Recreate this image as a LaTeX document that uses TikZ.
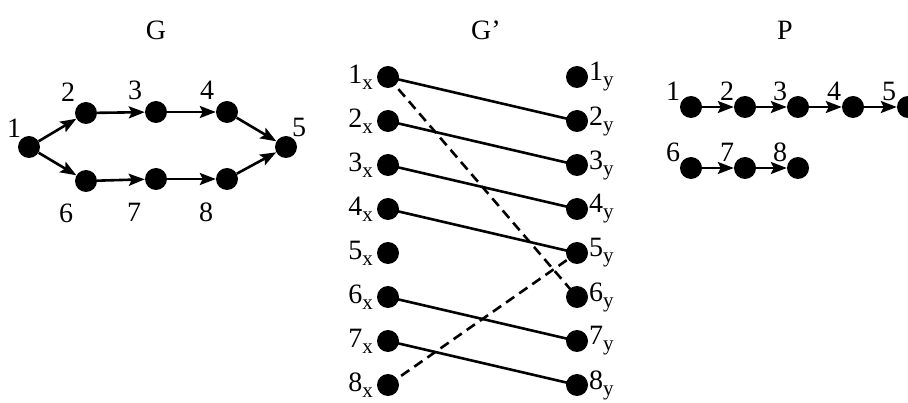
\documentclass[tikz,border=0pt]{standalone}
\usepackage{fontspec}
\setmainfont{Liberation Serif}
\usetikzlibrary{arrows.meta}

\tikzset{
  vtx/.style={circle, fill=black, inner sep=0pt, minimum size=22pt},
  lbl/.style={font=\fontsize{28}{32}\selectfont, inner sep=0pt},
  ttl/.style={font=\fontsize{28}{32}\selectfont, inner sep=0pt},
  arc/.style={line width=2.6pt, -{Stealth[length=16pt,width=12pt,inset=3pt]}},
  pair/.style={line width=2.6pt},
  dpair/.style={line width=2.6pt, dash pattern=on 10pt off 6pt}
}

\begin{document}
\begin{tikzpicture}[x=1pt, y=-1pt]

\useasboundingbox (0,0) rectangle (908,403);
\clip (0,0) rectangle (908,403);

\def\sx{\raisebox{-6pt}{\fontsize{21}{21}\selectfont x}}
\def\sy{\raisebox{-6pt}{\fontsize{21}{21}\selectfont y}}

% --- Graph G ---
\node[ttl] (titleG) at (156,30) {G};
\node[vtx] (g1) at (29,147) {};
\node[vtx] (g2) at (86,113) {};
\node[vtx] (g3) at (156,112) {};
\node[vtx] (g4) at (227,112) {};
\node[vtx] (g5) at (286,147) {};
\node[vtx] (g6) at (86,181) {};
\node[vtx] (g7) at (156,179) {};
\node[vtx] (g8) at (227,179) {};
\node[lbl] (gl1) at (14,128) {1};
\node[lbl] (gl2) at (68,92) {2};
\node[lbl] (gl3) at (135,90) {3};
\node[lbl] (gl4) at (207,90) {4};
\node[lbl] (gl5) at (299,127) {5};
\node[lbl] (gl6) at (66,213) {6};
\node[lbl] (gl7) at (134,212) {7};
\node[lbl] (gl8) at (206,212) {8};
\draw[arc] (g1) -- (g2);
\draw[arc] (g2) -- (g3);
\draw[arc] (g3) -- (g4);
\draw[arc] (g4) -- (g5);
\draw[arc] (g1) -- (g6);
\draw[arc] (g6) -- (g7);
\draw[arc] (g7) -- (g8);
\draw[arc] (g8) -- (g5);

% --- Bipartite graph G' ---
\node[ttl] (titleGp) at (486,30) {G’};
\node[vtx] (x1) at (388,77) {};
\node[vtx] (x2) at (388,121) {};
\node[vtx] (x3) at (388,165) {};
\node[vtx] (x4) at (388,209) {};
\node[vtx] (x5) at (388,253) {};
\node[vtx] (x6) at (388,297) {};
\node[vtx] (x7) at (388,341) {};
\node[vtx] (x8) at (388,385) {};
\node[vtx] (y1) at (577,77) {};
\node[vtx] (y2) at (577,121) {};
\node[vtx] (y3) at (577,165) {};
\node[vtx] (y4) at (577,209) {};
\node[vtx] (y5) at (577,253) {};
\node[vtx] (y6) at (577,297) {};
\node[vtx] (y7) at (577,341) {};
\node[vtx] (y8) at (577,385) {};
\node[lbl, anchor=east] (xl1) at (373,77) {1\sx};
\node[lbl, anchor=east] (xl2) at (373,121) {2\sx};
\node[lbl, anchor=east] (xl3) at (373,165) {3\sx};
\node[lbl, anchor=east] (xl4) at (373,209) {4\sx};
\node[lbl, anchor=east] (xl5) at (373,253) {5\sx};
\node[lbl, anchor=east] (xl6) at (373,297) {6\sx};
\node[lbl, anchor=east] (xl7) at (373,341) {7\sx};
\node[lbl, anchor=east] (xl8) at (373,385) {8\sx};
\node[lbl, anchor=west] (yl1) at (589,77) {1\sy};
\node[lbl, anchor=west] (yl2) at (589,121) {2\sy};
\node[lbl, anchor=west] (yl3) at (589,165) {3\sy};
\node[lbl, anchor=west] (yl4) at (589,209) {4\sy};
\node[lbl, anchor=west] (yl5) at (589,253) {5\sy};
\node[lbl, anchor=west] (yl6) at (589,297) {6\sy};
\node[lbl, anchor=west] (yl7) at (589,341) {7\sy};
\node[lbl, anchor=west] (yl8) at (589,385) {8\sy};
\draw[pair] (x1.center) -- (y2.center);
\draw[pair] (x2.center) -- (y3.center);
\draw[pair] (x3.center) -- (y4.center);
\draw[pair] (x4.center) -- (y5.center);
\draw[pair] (x6.center) -- (y7.center);
\draw[pair] (x7.center) -- (y8.center);
\draw[dpair] (x1.center) -- (y6.center);
\draw[dpair] (x8.center) -- (y5.center);

% --- Path cover P ---
\node[ttl] (titleP) at (785,30) {P};
\node[vtx] (p1) at (691,107) {};
\node[vtx] (p2) at (745,107) {};
\node[vtx] (p3) at (798,107) {};
\node[vtx] (p4) at (853,107) {};
\node[vtx] (p5) at (908,107) {};
\node[vtx] (p6) at (691,168) {};
\node[vtx] (p7) at (745,168) {};
\node[vtx] (p8) at (798,168) {};
\node[lbl] (pl1) at (673,91) {1};
\node[lbl] (pl2) at (727,91) {2};
\node[lbl] (pl3) at (780,91) {3};
\node[lbl] (pl4) at (834,91) {4};
\node[lbl] (pl5) at (889,91) {5};
\node[lbl] (pl6) at (673,152) {6};
\node[lbl] (pl7) at (727,152) {7};
\node[lbl] (pl8) at (780,152) {8};
\draw[arc] (p1) -- (p2);
\draw[arc] (p2) -- (p3);
\draw[arc] (p3) -- (p4);
\draw[arc] (p4) -- (p5);
\draw[arc] (p6) -- (p7);
\draw[arc] (p7) -- (p8);

\end{tikzpicture}
\end{document}
